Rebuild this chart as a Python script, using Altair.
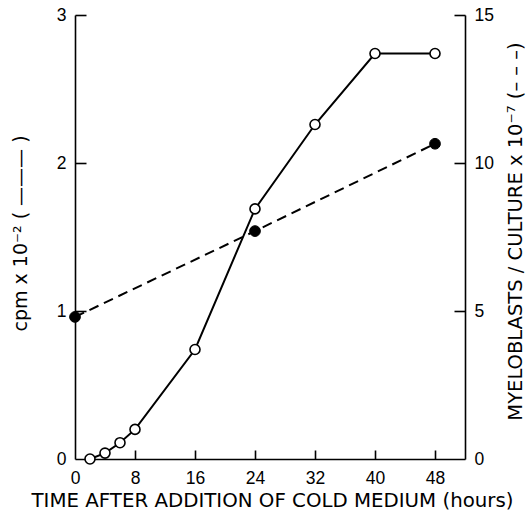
import altair as alt
import pandas as pd

# cpm (solid line, open circles), left axis, units x10^2
cpm_hours = [2, 4, 6, 8, 16, 24, 32, 40, 48]
cpm_values = [0.0, 0.04, 0.11, 0.2, 0.74, 1.69, 2.26, 2.74, 2.74]

# myeloblasts / culture (dashed line, filled circles), right axis, units x10^7
myelo_hours = [0, 24, 48]
myelo_values = [4.8, 7.7, 10.65]

x_ticks = [8, 16, 24, 32, 40, 48]
x_labels = [0, 8, 16, 24, 32, 40, 48]
left_ticks = [1, 2, 3]
left_labels = [0, 1, 2, 3]
right_ticks = [5, 10, 15]
right_labels = [0, 5, 10, 15]

W, H = 390, 444
FONT = "Liberation Sans"
TFONT = "DejaVu Sans"

cpm_df = pd.DataFrame({"h": cpm_hours, "cpm": cpm_values})
myelo_df = pd.DataFrame({"h": myelo_hours, "m": myelo_values})

xscale = alt.Scale(domain=[0, 52], nice=False, zero=False)
lscale = alt.Scale(domain=[0, 3], nice=False)
rscale = alt.Scale(domain=[0, 15], nice=False)

LBL = dict(labelFontSize=17.5, labelFont=FONT, labelColor="black", labelFlush=False,
           labelOverlap=False, grid=False, ticks=False, domainColor="black", domainWidth=1.6,
           format="d")
TTL = dict(titleFont=TFONT, titleFontWeight="normal", titleColor="black",
           titleBaseline="middle", titleAlign="center")
# inward-pointing tick axes (no labels, no domain)
TCK = dict(labels=False, domain=False, grid=False, ticks=True, tickColor="black",
           tickWidth=1.6, title=None)

x_main = alt.X("h:Q", scale=xscale, axis=alt.Axis(
    values=x_labels, labelPadding=10, **LBL,
    title="TIME AFTER ADDITION OF COLD MEDIUM (hours)", titleFontSize=19.8,
    titleX=197, titleY=41, **TTL))
x_tick = alt.X("h:Q", scale=xscale, axis=alt.Axis(
    orient="top", offset=-H, values=x_ticks, tickSize=9, **TCK))
x_none = alt.X("h:Q", scale=xscale, axis=None)

y_left = alt.Y("cpm:Q", scale=lscale, axis=alt.Axis(
    orient="left", values=left_labels, labelPadding=9, **LBL,
    title="cpm x 10⁻²  ( ——— )", titleFontSize=19,
    titleX=-55, titleY=218, titleAngle=270, **TTL))
y_left_tick = alt.Y("cpm:Q", scale=lscale, axis=alt.Axis(
    orient="right", offset=-W, values=left_ticks, tickSize=11, **TCK))

y_right = alt.Y("m:Q", scale=rscale, axis=alt.Axis(
    orient="right", values=right_labels, labelPadding=9, **LBL,
    title="MYELOBLASTS / CULTURE x 10⁻⁷ (– – –)", titleFontSize=19.5,
    titleX=50, titleY=216, titleAngle=270, **TTL))
y_right_tick = alt.Y("m:Q", scale=rscale, axis=alt.Axis(
    orient="left", offset=-W, values=right_ticks, tickSize=11, **TCK))

cpm_line = alt.Chart(cpm_df).mark_line(color="black", strokeWidth=2).encode(x=x_main, y=y_left)
cpm_pts = alt.Chart(cpm_df).mark_point(
    shape="circle", filled=True, fill="white", stroke="black", strokeWidth=1.6, size=100, opacity=1
).encode(x=x_tick, y=y_left_tick)

myelo_line = alt.Chart(myelo_df).mark_line(
    color="black", strokeWidth=2, strokeDash=[10, 6]
).encode(x=x_none, y=y_right)
myelo_pts = alt.Chart(myelo_df).mark_point(
    shape="circle", filled=True, fill="black", stroke="black", strokeWidth=1, size=115, opacity=1
).encode(x=x_none, y=y_right_tick)

chart = (
    alt.layer(cpm_line, myelo_line, cpm_pts, myelo_pts)
    .resolve_scale(y="independent")
    .resolve_axis(x="independent", y="independent")
    .properties(
        width=W,
        height=H,
        autosize=alt.AutoSizeParams(type="none"),
        padding={"left": 75, "top": 15, "right": 65, "bottom": 54},
        background="white",
    )
    .configure_view(stroke=None)
)

chart.save("out.html", embed_options={"renderer": "svg", "actions": False})
